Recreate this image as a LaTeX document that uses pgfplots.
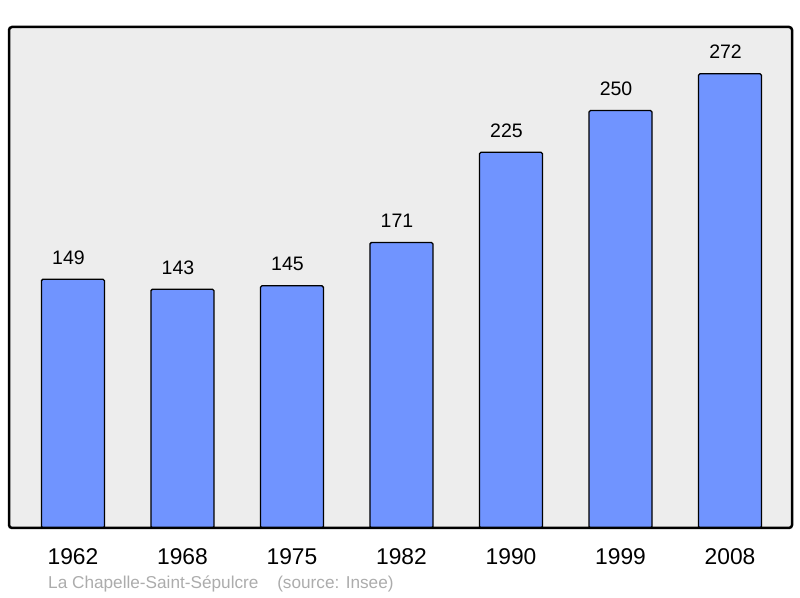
\documentclass[border=0pt]{standalone}
\usepackage{pgfplots}
\pgfplotsset{compat=1.18}
\usepackage{fontspec}
\setmainfont{Liberation Sans}
\definecolor{barblue}{HTML}{7094FF}
\definecolor{bg}{HTML}{EDEDED}
\definecolor{foot}{HTML}{ACACAC}
\begin{document}
\begin{tikzpicture}[x=1bp,y=1bp]
\path[use as bounding box] (0,0) rectangle (800,598);
\begin{axis}[
  at={(9bp,70bp)}, anchor=south west,
  scale only axis, width=783bp, height=501bp,
  xmin=-0.584, xmax=6.566, ymin=0, ymax=300,
  axis line style={draw=none},
  ytick=\empty,
  xtick=data,
  xticklabels={1962,1968,1975,1982,1990,1999,2008},
  major tick length=0pt,
  xticklabel style={anchor=base, yshift=-37bp, font=\fontsize{22.8bp}{26bp}\selectfont},
  /pgf/number format/assume math mode=true,
  clip=false,
]
\fill[bg, rounded corners=3bp] (rel axis cs:0,0) rectangle (rel axis cs:1,1);
\addplot[ybar, bar width=63bp, fill=barblue, draw=black, line width=1.3bp, rounded corners=1.5bp,
  point meta=y,
  nodes near coords,
  every node near coord/.append style={anchor=base, yshift=15bp, xshift=-4.5bp, text=black, font=\fontsize{19.5bp}{23bp}\selectfont}]
  coordinates {(0,149) (1,143) (2,145) (3,171) (4,225) (5,250) (6,272)};
\draw[black, line width=2.5bp, rounded corners=3bp] (rel axis cs:0,0) rectangle (rel axis cs:1,1);
\end{axis}
\node[anchor=base west, inner sep=0pt, text=foot, font=\fontsize{17.2bp}{20bp}\selectfont] at (48,9) {La Chapelle-Saint-Sépulcre\hspace{14bp} (source: Insee)};
\end{tikzpicture}
\end{document}
